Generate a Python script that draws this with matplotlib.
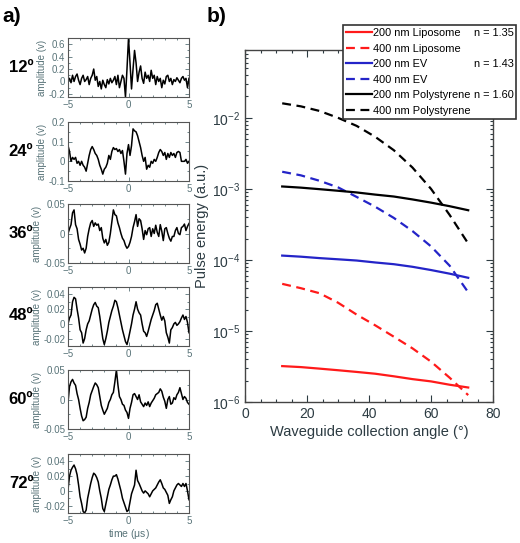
import numpy as np
import matplotlib
matplotlib.use("Agg")
import matplotlib.pyplot as plt
from matplotlib.ticker import MultipleLocator

plt.rcParams['font.family'] = ['Liberation Sans', 'DejaVu Sans']
plt.rcParams['mathtext.default'] = 'regular'

# ---- panel a) time traces, t = -5..5 us in 0.125 steps ----
t = np.arange(81) * 0.125 - 5.0

trace_12 = [0.0, 0.05, -0.02, 0.1, 0.0, 0.08, 0.12, 0.02, -0.05, 0.05, 0.1, 0.0, 0.03, 0.08,
            -0.05, 0.05, 0.1, 0.2, 0.02, 0.08, -0.08, 0.0, -0.12, 0.02, -0.05, -0.1, 0.03, -0.04,
            0.05, -0.02, 0.02, 0.08, -0.05, 0.1, -0.1, 0.0, 0.1, 0.05, -0.25, 0.2, 0.7, 0.3,
            -0.12, 0.2, 0.5, 0.3, 0.0, 0.15, 0.25, 0.05, -0.03, 0.15, 0.05, 0.1, 0.0, 0.18, 0.05,
            0.1, -0.05, 0.08, 0.0, 0.05, -0.1, 0.02, -0.04, 0.08, 0.1, 0.0, 0.05, -0.05, 0.03,
            0.0, 0.06, 0.02, -0.02, 0.05, 0.08, 0.02, 0.05, -0.1, 0.05]
trace_24 = [0.08, 0.05, 0.0, 0.02, 0.01, 0.02, -0.01, 0.0, -0.02, 0.0, -0.02, -0.03, -0.05,
            -0.01, 0.03, 0.06, 0.075, 0.06, 0.04, 0.03, 0.01, -0.02, -0.04, -0.065, -0.04, -0.03,
            -0.01, 0.03, 0.01, 0.05, 0.07, 0.06, 0.065, 0.05, 0.06, 0.04, 0.055, 0.0, -0.065,
            0.04, 0.085, 0.03, 0.08, 0.165, 0.155, 0.15, 0.13, 0.1, 0.07, 0.03, 0.0, 0.02, -0.04,
            -0.02, -0.03, 0.0, -0.01, 0.01, 0.0, 0.02, 0.045, 0.06, 0.05, 0.03, 0.045, 0.01, 0.04,
            0.02, 0.045, 0.03, 0.04, 0.02, 0.045, 0.05, 0.045, 0.0, 0.0, 0.0, 0.01, -0.01, 0.0]
trace_36 = [0.0, 0.008, 0.015, 0.035, 0.04, 0.015, 0.008, -0.01, -0.018, -0.028, -0.025, -0.033,
            -0.025, -0.005, 0.008, 0.018, 0.022, 0.012, 0.018, 0.014, 0.016, 0.005, 0.01, -0.008,
            -0.016, -0.01, -0.02, -0.015, 0.0, 0.02, 0.04, 0.032, 0.03, 0.018, 0.01, 0.0, -0.008,
            -0.012, -0.02, -0.025, -0.022, -0.015, -0.005, 0.01, 0.02, 0.032, 0.012, 0.025, 0.022,
            0.008, -0.01, 0.005, -0.002, 0.008, 0.01, -0.005, 0.008, 0.0, 0.014, 0.002, -0.005,
            0.015, 0.004, -0.012, 0.008, 0.01, 0.0, -0.008, -0.013, -0.005, -0.005, 0.005, 0.01,
            0.0, -0.002, 0.01, 0.012, 0.016, 0.005, 0.012, 0.017]
trace_48 = [0.0, 0.008, 0.012, 0.03, 0.036, 0.034, 0.02, 0.008, -0.008, -0.012, -0.026, -0.02,
            -0.008, 0.0, 0.004, 0.012, 0.02, 0.026, 0.029, 0.024, 0.022, 0.01, -0.005, -0.02,
            -0.028, -0.02, -0.01, 0.002, 0.01, 0.018, 0.024, 0.032, 0.03, 0.022, 0.012, 0.002,
            -0.008, -0.016, -0.024, -0.028, -0.02, -0.01, 0.0, 0.012, 0.02, 0.03, 0.02, 0.015,
            0.012, 0.0, -0.01, -0.012, -0.017, -0.01, -0.002, 0.006, 0.012, 0.018, 0.026, 0.028,
            0.02, 0.012, 0.005, 0.01, 0.004, -0.012, -0.018, -0.026, -0.008, -0.005, 0.0, 0.002,
            -0.002, 0.0, 0.003, 0.008, 0.012, 0.006, 0.01, 0.002, -0.012]
trace_60 = [-0.005, 0.022, 0.03, 0.034, 0.028, 0.024, 0.01, 0.0, -0.015, -0.028, -0.036, -0.034,
            -0.03, -0.015, -0.005, 0.008, 0.015, 0.022, 0.028, 0.025, 0.02, 0.005, -0.01, -0.018,
            -0.025, -0.02, -0.015, -0.005, 0.0, 0.008, 0.012, 0.03, 0.05, 0.025, 0.005, 0.0,
            -0.008, -0.01, -0.018, -0.022, -0.032, -0.015, -0.005, 0.008, 0.01, 0.005, 0.0, 0.008,
            -0.004, -0.008, -0.012, -0.006, -0.01, -0.004, -0.012, -0.006, -0.002, 0.002, 0.008,
            0.01, 0.012, 0.018, 0.014, 0.004, -0.003, -0.015, 0.0, 0.005, -0.008, -0.006, 0.003,
            0.0, 0.008, 0.012, 0.02, 0.01, 0.0, 0.005, 0.002, -0.005, -0.008]
trace_72 = [0.002, 0.02, 0.028, 0.032, 0.035, 0.03, 0.022, 0.008, -0.008, -0.017, -0.028, -0.03,
            -0.026, -0.01, 0.0, 0.01, 0.018, 0.024, 0.022, 0.018, 0.012, 0.0, -0.01, -0.024,
            -0.028, -0.018, -0.008, 0.002, 0.008, 0.015, 0.02, 0.02, 0.022, 0.016, 0.008, 0.0,
            -0.01, -0.016, -0.022, -0.028, -0.026, -0.015, -0.004, 0.002, 0.008, 0.028, 0.014,
            0.01, 0.005, 0.0, -0.003, 0.0, -0.002, -0.004, -0.008, -0.004, 0.0, 0.002, 0.004,
            0.008, 0.012, 0.015, 0.01, 0.004, 0.002, -0.002, -0.006, -0.017, -0.012, -0.008, 0.0,
            0.004, 0.008, 0.01, 0.008, 0.006, 0.01, 0.006, 0.01, 0.0, -0.012]

angle_labels = ['12º', '24º', '36º', '48º', '60º', '72º']
traces = [trace_12, trace_24, trace_36, trace_48, trace_60, trace_72]
ylims = [(-0.25, 0.7), (-0.1, 0.2), (-0.05, 0.05), (-0.03, 0.05), (-0.05, 0.05), (-0.03, 0.05)]
yticks = [[-0.2, 0, 0.2, 0.4, 0.6], [-0.1, 0, 0.1, 0.2], [-0.05, 0, 0.05],
          [-0.02, 0, 0.02, 0.04], [-0.05, 0, 0.05], [-0.02, 0, 0.02, 0.04]]
ytick_labels = [['-0.2', '0', '0.2', '0.4', '0.6'], ['-0.1', '0', '0.1', '0.2'],
                ['-0.05', '0', '0.05'], ['-0.02', '0', '0.02', '0.04'],
                ['-0.05', '0', '0.05'], ['-0.02', '0', '0.02', '0.04']]
yminor = [0.1, 0.05, 0.025, 0.01, 0.025, 0.01]

# ---- panel b) pulse energy vs angle ----
angles = [12, 18, 24, 30, 36, 42, 48, 54, 60, 66, 72]
lipo_200 = [3.2e-6, 3.1e-6, 2.95e-6, 2.8e-6, 2.65e-6, 2.5e-6, 2.3e-6, 2.1e-6, 1.95e-6, 1.75e-6, 1.6e-6]
lipo_400 = [4.6e-5, 4.0e-5, 3.4e-5, 2.5e-5, 1.7e-5, 1.2e-5, 8.3e-6, 5.7e-6, 3.7e-6, 2.2e-6, 1.25e-6]
ev_200 = [1.15e-4, 1.11e-4, 1.06e-4, 1.02e-4, 9.8e-5, 9.2e-5, 8.7e-5, 8.0e-5, 7.2e-5, 6.4e-5, 5.6e-5]
ev_400 = [1.74e-3, 1.55e-3, 1.3e-3, 1.05e-3, 7.7e-4, 5.6e-4, 3.9e-4, 2.55e-4, 1.55e-4, 8.3e-5, 3.5e-5]
ps_200 = [1.08e-3, 1.04e-3, 9.9e-4, 9.4e-4, 8.9e-4, 8.3e-4, 7.8e-4, 7.1e-4, 6.4e-4, 5.7e-4, 5.0e-4]
ps_400 = [1.6e-2, 1.45e-2, 1.25e-2, 1.0e-2, 7.7e-3, 5.4e-3, 3.5e-3, 2.0e-3, 1.0e-3, 4.3e-4, 1.7e-4]
series_labels = ['200 nm Liposome', '400 nm Liposome', '200 nm EV', '400 nm EV',
                 '200 nm Polystyrene', '400 nm Polystyrene']
n_labels = ['n = 1.35', 'n = 1.43', 'n = 1.60']

W, H = 520, 543
fig = plt.figure(figsize=(W / 100, H / 100), dpi=100)

gray = '#587378'
dark = '#2c3b42'

tops = [38, 122, 204, 287, 370, 454]
for i, (tr, ang) in enumerate(zip(traces, angle_labels)):
    top = tops[i]
    ax = fig.add_axes([68 / W, 1 - (top + 59) / H, 121 / W, 59 / H])
    ax.plot(t, tr, color='black', lw=1.1)
    ax.set_xlim(-5, 5)
    ax.set_ylim(*ylims[i])
    ax.set_xticks([-5, 0, 5])
    ax.xaxis.set_minor_locator(MultipleLocator(1))
    ax.set_yticks(yticks[i])
    ax.set_yticklabels(ytick_labels[i])
    ax.yaxis.set_minor_locator(MultipleLocator(yminor[i]))
    ax.tick_params(which='both', direction='in', top=True, right=True, colors=gray,
                   labelsize=7, pad=2, width=0.6)
    ax.tick_params(which='major', length=3)
    ax.tick_params(which='minor', length=1.5)
    for s in ax.spines.values():
        s.set_color('#555555')
        s.set_linewidth(0.8)
    ax.set_ylabel('amplitude (v)', color=gray, fontsize=7, labelpad=1)
    fig.text(21 / W, 1 - (top + 29) / H, ang, fontsize=12, fontweight='bold',
             ha='center', va='center')
    if i == 5:
        ax.set_xlabel('time ($\\mu$s)', color=gray, fontsize=7.5, labelpad=1)

fig.text(2 / W, 1 - 17 / H, 'a)', fontsize=15, fontweight='bold', va='center')
fig.text(207 / W, 1 - 17 / H, 'b)', fontsize=15, fontweight='bold', va='center')

axb = fig.add_axes([245 / W, 1 - 402 / H, 248 / W, 352 / H])
red = '#ff1a1a'
blue = '#2424c8'
axb.plot(angles, lipo_200, color=red, lw=1.6, label=series_labels[0])
axb.plot(angles, lipo_400, color=red, lw=1.6, ls=(0, (4, 2.5)), label=series_labels[1])
axb.plot(angles, ev_200, color=blue, lw=1.6, label=series_labels[2])
axb.plot(angles, ev_400, color=blue, lw=1.6, ls=(0, (4, 2.5)), label=series_labels[3])
axb.plot(angles, ps_200, color='black', lw=1.6, label=series_labels[4])
axb.plot(angles, ps_400, color='black', lw=1.6, ls=(0, (4, 2.5)), label=series_labels[5])
axb.set_yscale('log')
axb.set_xlim(0, 80)
axb.set_ylim(1e-6, 0.09)
axb.set_xticks([0, 20, 40, 60, 80])
axb.xaxis.set_minor_locator(MultipleLocator(5))
axb.set_yticks([1e-6, 1e-5, 1e-4, 1e-3, 1e-2])
axb.tick_params(which='both', direction='in', top=True, right=True, colors=dark,
                labelsize=10, width=0.8)
axb.tick_params(which='major', length=5)
axb.tick_params(which='minor', length=2.5)
for s in axb.spines.values():
    s.set_color('#444444')
    s.set_linewidth(1.0)
axb.set_xlabel('Waveguide collection angle (°)', color=dark, fontsize=10.5, labelpad=3)
axb.set_ylabel('Pulse energy (a.u.)', color=dark, fontsize=10.5, labelpad=2)

leg = axb.legend(loc='upper left', bbox_to_anchor=(343 / W, 1 - 113 / H, 173 / W, 88 / H),
                 bbox_transform=fig.transFigure, mode='expand', fontsize=7.9,
                 handlelength=2.3, handletextpad=0.15, labelspacing=0.5,
                 borderpad=0.3, borderaxespad=0, fancybox=False, framealpha=1)
leg.get_frame().set_edgecolor('#333333')
leg.get_frame().set_linewidth(1.2)

# refractive index notes, aligned with legend rows 1, 3, 5
fig.canvas.draw()
renderer = fig.canvas.get_renderer()
leg_texts = leg.get_texts()
for lbl, k in zip(n_labels, [0, 2, 4]):
    bb = leg_texts[k].get_window_extent(renderer)
    yc = (bb.y0 + bb.y1) / 2 / H
    fig.text(514 / W, yc, lbl, fontsize=7.9, ha='right', va='center')

fig.savefig('out.png', dpi=100)
